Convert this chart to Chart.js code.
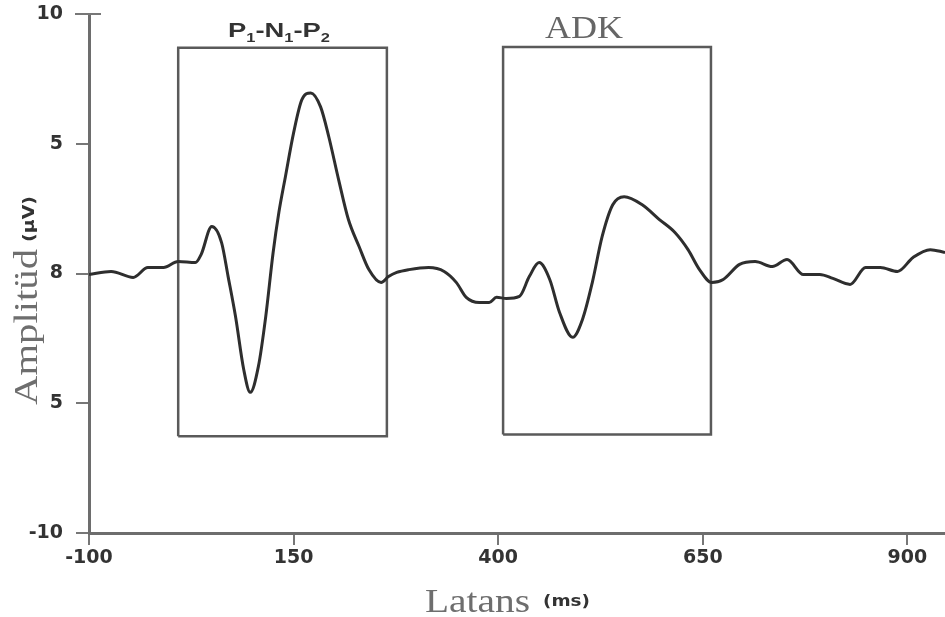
<!DOCTYPE html>
<html>
<head>
<meta charset="utf-8">
<script src="https://cdn.jsdelivr.net/npm/chart.js@4.4.0/dist/chart.umd.min.js"></script>
<style>
  html, body { margin: 0; padding: 0; background: #fff; }
  #grafik { display: block; }
</style>
</head>
<body>
<canvas id="grafik" width="945" height="617"></canvas>
<script>
// Ortalama iz: latans (ms) ve amplitüd (µV)
const latans = [-100, -73, -46, -28, -9, 9, 30, 37, 50, 62, 70, 79, 89, 97, 107, 116, 125, 132, 140, 150,
  160, 171, 183, 193, 205, 217, 230, 242, 257, 266, 276, 291, 315, 334, 349, 361, 377, 389, 398, 410,
  426, 438, 450, 463, 475, 491, 503, 515, 527, 540, 554, 576, 597, 616, 632, 646, 661, 675, 695, 714,
  735, 753, 773, 793, 809, 830, 849, 867, 888, 907, 928, 946];
const amplitud = [-0.04, 0.08, -0.15, 0.23, 0.23, 0.46, 0.42, 0.73, 1.81, 1.19, -0.12, -1.65, -3.69, -4.58, -3.58, -1.65, 0.81, 2.35, 3.73, 5.42,
  6.69, 6.96, 6.42, 5.27, 3.62, 2.08, 1.04, 0.15, -0.35, -0.12, 0.04, 0.15, 0.23, 0.08, -0.35, -0.92, -1.12, -1.12, -0.92, -0.96,
  -0.88, -0.12, 0.42, -0.23, -1.5, -2.46, -1.77, -0.35, 1.42, 2.65, 2.96, 2.65, 2.08, 1.58, 0.92, 0.15, -0.35, -0.23, 0.35, 0.46,
  0.27, 0.54, -0.04, -0.04, -0.19, -0.42, 0.23, 0.23, 0.08, 0.62, 0.92, 0.81];

// eksen çentikleri ve yanlarına basılan etiketler
const xTicks = [-100, 150, 400, 650, 900];
const xTickLabels = ['-100', '150', '400', '650', '900'];
const yTicks = [-10, -5, 0, 5, 10];
const yTickLabels = ['-10', '5', '8', '5', '10'];

// analiz pencereleri: [baslangic, bitis] ms, [alt, ust] µV
const pencereX = [[9, 264], [406, 660]];
const pencereY = [[-6.27, 8.7], [-6.2, 8.73]];

const kutu = (xs, ys) => [
  { x: xs[0], y: ys[0] }, { x: xs[0], y: ys[1] }, { x: xs[1], y: ys[1] },
  { x: xs[1], y: ys[0] }, { x: xs[0], y: ys[0] }
];

// yatayda hedef genislige uydurulmus, karisik yazi tipli satir
function satir(ctx, parcalar, x, y, genislik) {
  let w = 0;
  parcalar.forEach(p => { ctx.font = p[1]; w += ctx.measureText(p[0]).width; });
  ctx.save();
  ctx.translate(x, y);
  ctx.scale(genislik / w, 1);
  let cx = 0;
  parcalar.forEach(p => {
    ctx.font = p[1];
    ctx.fillStyle = p[3] || '#333';
    ctx.fillText(p[0], cx, p[2] || 0);
    cx += ctx.measureText(p[0]).width;
  });
  ctx.restore();
}

const yazilar = {
  id: 'yazilar',
  afterDraw(chart) {
    const ctx = chart.ctx;
    const { left, top } = chart.chartArea;
    ctx.save();

    // y ekseninin tepesindeki kısa yatay çizgi
    ctx.strokeStyle = '#777';
    ctx.lineWidth = 2;
    ctx.beginPath();
    ctx.moveTo(left - 14, top);
    ctx.lineTo(left + 12, top);
    ctx.stroke();

    ctx.textAlign = 'left';
    ctx.textBaseline = 'alphabetic';

    const sans = 'bold 20px "Liberation Sans"';
    const alt = 'bold 12px "Liberation Sans"';
    satir(ctx, [['P', sans], ['1', alt, 5], ['-', sans], ['N', sans], ['1', alt, 5], ['-', sans], ['P', sans], ['2', alt, 5]],
      228, 37, 102);

    satir(ctx, [['ADK', '32px "Liberation Serif"', 0, '#666']], 545, 38, 78);

    satir(ctx, [['Latans', '34px "Liberation Serif"', 0, '#6e6e6e']], 425, 612, 105);
    satir(ctx, [['(ms)', 'bold 16px "DejaVu Sans"', 0, '#333']], 543, 606, 47);

    ctx.translate(37, 405);
    ctx.rotate(-Math.PI / 2);
    satir(ctx, [['Amplitüd', '34px "Liberation Serif"', 0, '#6e6e6e']], 0, 0, 156);
    satir(ctx, [['(µV)', 'bold 16px "DejaVu Sans"', -3, '#333']], 163, 0, 46);
    ctx.restore();
  }
};

const grafik = new Chart(document.getElementById('grafik').getContext('2d'), {
  type: 'line',
  data: {
    datasets: [
      {
        data: latans.map((x, i) => ({ x, y: amplitud[i] })),
        borderColor: '#2e2e2e',
        borderWidth: 3,
        pointRadius: 0,
        cubicInterpolationMode: 'monotone'
      },
      ...pencereX.map((xs, i) => ({
        data: kutu(xs, pencereY[i]),
        borderColor: '#5a5a5a',
        borderWidth: 2.5,
        pointRadius: 0,
        tension: 0
      }))
    ]
  },
  options: {
    responsive: false,
    animation: false,
    events: [],
    layout: { padding: { top: 14, right: 0, left: 0, bottom: 0 } },
    plugins: {
      legend: { display: false },
      tooltip: { enabled: false }
    },
    scales: {
      x: {
        type: 'linear',
        min: -100,
        max: 946,
        afterBuildTicks: s => { s.ticks = xTicks.map(v => ({ value: v })); },
        afterFit: s => { s.height = 84; s.paddingLeft = 0; s.paddingRight = 0; },
        border: { color: '#6d6d6d', width: 3 },
        grid: { drawOnChartArea: false, drawTicks: true, tickLength: 12, color: '#777', lineWidth: 2 },
        ticks: {
          padding: 2,
          maxRotation: 0,
          color: '#333',
          font: { family: 'DejaVu Sans', size: 19, weight: 'bold' },
          callback: v => xTickLabels[xTicks.indexOf(v)]
        }
      },
      y: {
        type: 'linear',
        min: -10,
        max: 10,
        afterBuildTicks: s => { s.ticks = yTicks.map(v => ({ value: v })); },
        afterFit: s => { s.width = 89; s.paddingTop = 0; s.paddingBottom = 0; },
        border: { color: '#6d6d6d', width: 3 },
        grid: { drawOnChartArea: false, drawTicks: true, tickLength: 13, color: '#777', lineWidth: 2 },
        ticks: {
          padding: 13,
          color: '#333',
          font: { family: 'DejaVu Sans', size: 19, weight: 'bold' },
          callback: v => yTickLabels[yTicks.indexOf(v)]
        }
      }
    }
  },
  plugins: [yazilar]
});
</script>
</body>
</html>
